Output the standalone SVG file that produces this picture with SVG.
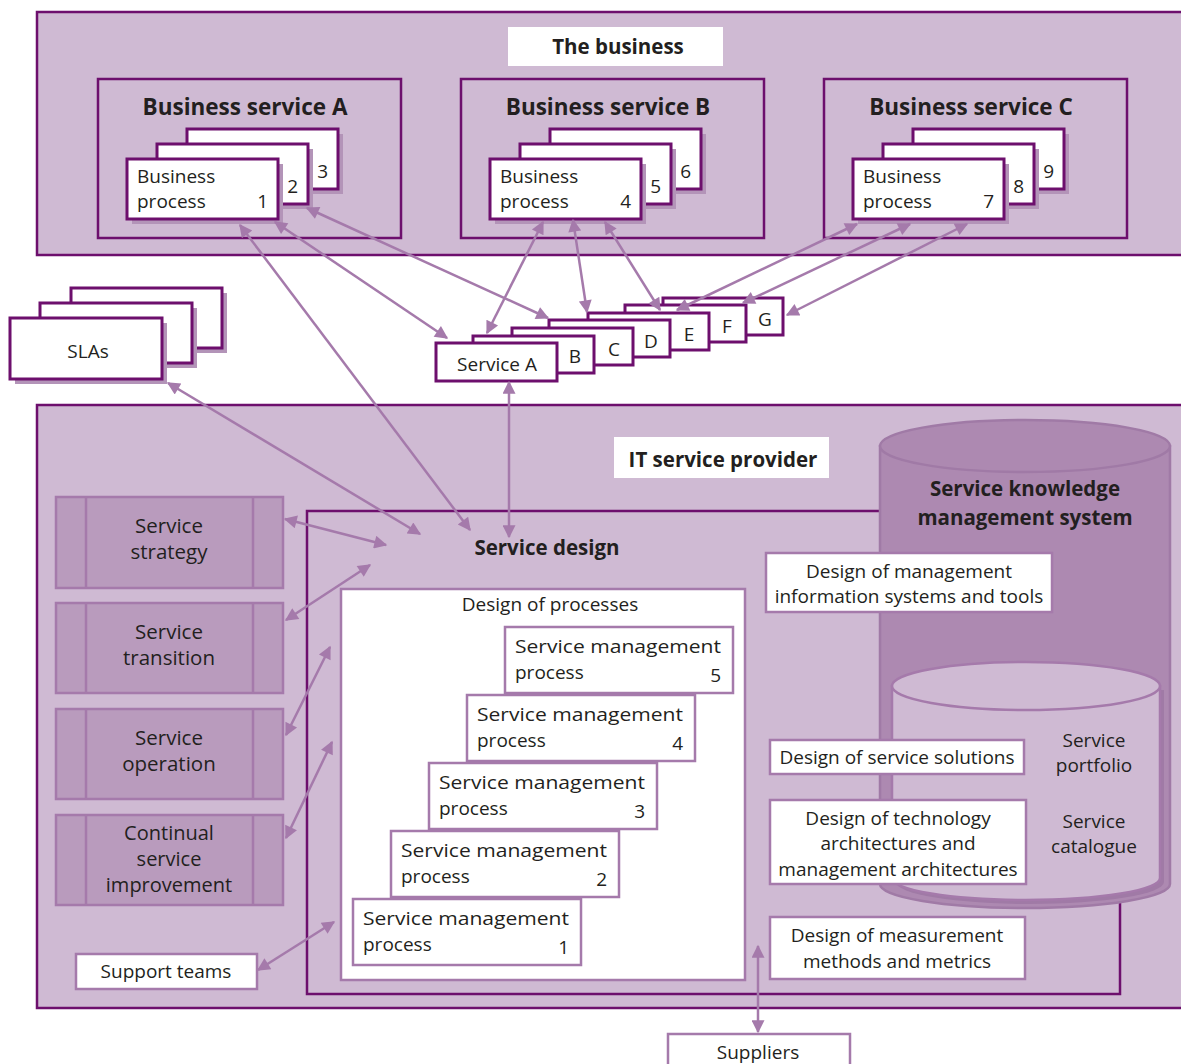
<svg xmlns="http://www.w3.org/2000/svg" width="1181" height="1064" viewBox="0 0 1181 1064">
<defs>
<marker id="ah" viewBox="0 0 10 10" refX="9" refY="5" markerWidth="6.5" markerHeight="5.2" orient="auto-start-reverse" markerUnits="strokeWidth"><path d="M0,0 L10,5 L0,10 z" fill="#a57aab"/></marker>
</defs>
<style>
text{font-family:"Open Sans","Noto Sans","Liberation Sans",sans-serif;fill:#231f20;font-size:19px}
.b{font-weight:bold;font-size:20.5px}
.bt{font-weight:bold;font-size:22.5px}
.lg{font-size:20.5px}
.c{text-anchor:middle}
.r{text-anchor:end}
.area{fill:#cfbad3;stroke:#6d0f6d;stroke-width:2.5}
.dk{fill:#fff;stroke:#6d0f6d;stroke-width:3}
.sh{fill:#b394b8}
.wl{fill:#fff;stroke:#a57aab;stroke-width:2.5}
.lp{fill:#b99bbd;stroke:#a57aab;stroke-width:2.5}
.ttl{fill:#fff}
.con line{stroke:#a57aab;stroke-width:2.5;marker-start:url(#ah);marker-end:url(#ah)}
</style>
<rect width="1181" height="1064" fill="#fff"/>

<g id="the-business">
<rect class="area" x="37" y="12" width="1160" height="243"/>
<rect class="ttl" x="508" y="27" width="215" height="39"/>
<text class="b c" x="618" y="54">The business</text>
</g>

<g id="business-service-a">
<rect class="area" x="98" y="79" width="303" height="159"/>
<text class="bt c" x="245" y="115">Business service A</text>
<rect class="sh" x="192" y="134" width="151" height="60"/><rect class="dk" x="187" y="129" width="151" height="60"/>
<text class="r" x="328" y="178">3</text>
<rect class="sh" x="162" y="149" width="151" height="60"/><rect class="dk" x="157" y="144" width="151" height="60"/>
<text class="r" x="298" y="193">2</text>
<rect class="sh" x="132" y="164" width="151" height="60"/><rect class="dk" x="127" y="159" width="151" height="60"/>
<text x="137" y="183">Business</text><text x="137" y="208">process</text><text class="r" x="268" y="208">1</text>
</g>

<g id="business-service-b">
<rect class="area" x="461" y="79" width="303" height="159"/>
<text class="bt c" x="608" y="115">Business service B</text>
<rect class="sh" x="555" y="134" width="151" height="60"/><rect class="dk" x="550" y="129" width="151" height="60"/>
<text class="r" x="691" y="178">6</text>
<rect class="sh" x="525" y="149" width="151" height="60"/><rect class="dk" x="520" y="144" width="151" height="60"/>
<text class="r" x="661" y="193">5</text>
<rect class="sh" x="495" y="164" width="151" height="60"/><rect class="dk" x="490" y="159" width="151" height="60"/>
<text x="500" y="183">Business</text><text x="500" y="208">process</text><text class="r" x="631" y="208">4</text>
</g>

<g id="business-service-c">
<rect class="area" x="824" y="79" width="303" height="159"/>
<text class="bt c" x="971" y="115">Business service C</text>
<rect class="sh" x="918" y="134" width="151" height="60"/><rect class="dk" x="913" y="129" width="151" height="60"/>
<text class="r" x="1054" y="178">9</text>
<rect class="sh" x="888" y="149" width="151" height="60"/><rect class="dk" x="883" y="144" width="151" height="60"/>
<text class="r" x="1024" y="193">8</text>
<rect class="sh" x="858" y="164" width="151" height="60"/><rect class="dk" x="853" y="159" width="151" height="60"/>
<text x="863" y="183">Business</text><text x="863" y="208">process</text><text class="r" x="994" y="208">7</text>
</g>

<g id="slas">
<rect class="sh" x="76" y="293" width="151" height="60"/><rect class="dk" x="71" y="288" width="151" height="60"/>
<rect class="sh" x="45" y="308" width="152" height="60"/><rect class="dk" x="40" y="303" width="152" height="60"/>
<rect class="sh" x="15" y="323" width="152" height="61"/><rect class="dk" x="10" y="318" width="152" height="61"/>
<text class="c" x="88" y="358">SLAs</text>
</g>

<g id="services">
<rect class="dk" x="663" y="298" width="120" height="37"/><text class="c" x="765" y="326">G</text>
<rect class="dk" x="625" y="305" width="121" height="37"/><text class="c" x="727" y="333">F</text>
<rect class="dk" x="588" y="313" width="121" height="37"/><text class="c" x="689" y="341">E</text>
<rect class="dk" x="549" y="320" width="121" height="37"/><text class="c" x="651" y="348">D</text>
<rect class="dk" x="512" y="328" width="121" height="37"/><text class="c" x="614" y="356">C</text>
<rect class="dk" x="473" y="336" width="121" height="37"/><text class="c" x="575" y="363">B</text>
<rect class="dk" x="436" y="343" width="121" height="38"/><text class="c" x="497" y="371">Service A</text>
</g>

<g id="it-service-provider">
<rect class="area" x="37" y="405" width="1160" height="603"/>
<rect class="ttl" x="614" y="437" width="215" height="41"/>
<text class="b c" x="723" y="467">IT service provider</text>
</g>

<g id="service-strategy">
<rect class="lp" x="56" y="497" width="227" height="91"/>
<line x1="86" y1="497" x2="86" y2="588" stroke="#a57aab" stroke-width="2.5"/><line x1="253" y1="497" x2="253" y2="588" stroke="#a57aab" stroke-width="2.5"/>
<text class="c lg" x="169" y="533">Service</text><text class="c lg" x="169" y="559">strategy</text>
</g>
<g id="service-transition">
<rect class="lp" x="56" y="603" width="227" height="90"/>
<line x1="86" y1="603" x2="86" y2="693" stroke="#a57aab" stroke-width="2.5"/><line x1="253" y1="603" x2="253" y2="693" stroke="#a57aab" stroke-width="2.5"/>
<text class="c lg" x="169" y="639">Service</text><text class="c lg" x="169" y="665">transition</text>
</g>
<g id="service-operation">
<rect class="lp" x="56" y="709" width="227" height="90"/>
<line x1="86" y1="709" x2="86" y2="799" stroke="#a57aab" stroke-width="2.5"/><line x1="253" y1="709" x2="253" y2="799" stroke="#a57aab" stroke-width="2.5"/>
<text class="c lg" x="169" y="745">Service</text><text class="c lg" x="169" y="771">operation</text>
</g>
<g id="continual-service-improvement">
<rect class="lp" x="56" y="815" width="227" height="90"/>
<line x1="86" y1="815" x2="86" y2="905" stroke="#a57aab" stroke-width="2.5"/><line x1="253" y1="815" x2="253" y2="905" stroke="#a57aab" stroke-width="2.5"/>
<text class="c" x="169" y="840" style="font-size:20px">Continual</text><text class="c" x="169" y="866" style="font-size:20px">service</text><text class="c" x="169" y="892" style="font-size:20px">improvement</text>
</g>

<g id="support-teams">
<rect class="wl" x="76" y="954" width="181" height="35"/>
<text class="c" x="166" y="978">Support teams</text>
</g>

<g id="service-design">
<rect class="area" x="307" y="511" width="813" height="483"/>
<text class="b c" x="547" y="555">Service design</text>
</g>

<g id="skms">
<path d="M880,446 L880,884 A145,24 0 0 0 1170,884 L1170,446 Z" fill="#ad89b1" stroke="#a07aa6" stroke-width="2.5"/>
<ellipse cx="1025" cy="446" rx="145" ry="26" fill="#ad89b1" stroke="#a07aa6" stroke-width="2.5"/>
<text class="b c" x="1025" y="496">Service knowledge</text>
<text class="b c" x="1025" y="525">management system</text>
</g>

<g id="service-portfolio">
<path d="M896,690 L896,882 A134,22 0 0 0 1164,882 L1164,690 Z" fill="#a07aa6"/>
<path d="M892,686 L892,878 A134,22 0 0 0 1160,878 L1160,686 Z" fill="#cfbad3" stroke="#a57aab" stroke-width="2.5"/>
<ellipse cx="1026" cy="686" rx="134" ry="24" fill="#cfbad3" stroke="#a57aab" stroke-width="2.5"/>
<text class="c" x="1094" y="747">Service</text><text class="c" x="1094" y="772">portfolio</text>
<text class="c" x="1094" y="828">Service</text><text class="c" x="1094" y="853">catalogue</text>
</g>

<g id="design-mis">
<rect class="wl" x="766" y="553" width="286" height="59"/>
<text class="c" x="909" y="578">Design of management</text><text class="c" x="909" y="603">information systems and tools</text>
</g>
<g id="design-solutions">
<rect class="wl" x="770" y="740" width="254" height="34"/>
<text class="c" x="897" y="764">Design of service solutions</text>
</g>
<g id="design-architectures">
<rect class="wl" x="770" y="800" width="256" height="84"/>
<text class="c" x="898" y="825">Design of technology</text><text class="c" x="898" y="850">architectures and</text><text class="c" x="898" y="876">management architectures</text>
</g>
<g id="design-measurement">
<rect class="wl" x="770" y="917" width="255" height="62"/>
<text class="c" x="897" y="942">Design of measurement</text><text class="c" x="897" y="968">methods and metrics</text>
</g>

<g id="design-of-processes">
<rect class="wl" x="341" y="589" width="404" height="391"/>
<text class="c" x="550" y="611">Design of processes</text>
</g>
<g id="smp-5"><rect class="wl" x="505" y="627" width="228" height="66"/><text x="515" y="653" textLength="206" lengthAdjust="spacingAndGlyphs">Service management</text><text x="515" y="679">process</text><text class="r" x="721" y="682">5</text></g>
<g id="smp-4"><rect class="wl" x="467" y="695" width="228" height="66"/><text x="477" y="721" textLength="206" lengthAdjust="spacingAndGlyphs">Service management</text><text x="477" y="747">process</text><text class="r" x="683" y="750">4</text></g>
<g id="smp-3"><rect class="wl" x="429" y="763" width="228" height="66"/><text x="439" y="789" textLength="206" lengthAdjust="spacingAndGlyphs">Service management</text><text x="439" y="815">process</text><text class="r" x="645" y="818">3</text></g>
<g id="smp-2"><rect class="wl" x="391" y="831" width="228" height="66"/><text x="401" y="857" textLength="206" lengthAdjust="spacingAndGlyphs">Service management</text><text x="401" y="883">process</text><text class="r" x="607" y="886">2</text></g>
<g id="smp-1"><rect class="wl" x="353" y="899" width="228" height="66"/><text x="363" y="925" textLength="206" lengthAdjust="spacingAndGlyphs">Service management</text><text x="363" y="951">process</text><text class="r" x="569" y="954">1</text></g>

<g id="suppliers">
<rect class="wl" x="668" y="1034" width="182" height="40"/>
<text class="c" x="758" y="1059">Suppliers</text>
</g>

<g id="connectors" class="con">
<line x1="240" y1="225" x2="470" y2="530"/>
<line x1="275" y1="222" x2="447" y2="338"/>
<line x1="307" y1="208" x2="548" y2="318"/>
<line x1="543" y1="222" x2="487" y2="333"/>
<line x1="573" y1="220" x2="587" y2="312"/>
<line x1="605" y1="222" x2="660" y2="310"/>
<line x1="857" y1="224" x2="677" y2="310"/>
<line x1="910" y1="224" x2="743" y2="303"/>
<line x1="967" y1="224" x2="787" y2="315"/>
<line x1="168" y1="383" x2="420" y2="534"/>
<line x1="509" y1="382" x2="509" y2="537"/>
<line x1="285" y1="519" x2="386" y2="545"/>
<line x1="286" y1="620" x2="370" y2="565"/>
<line x1="286" y1="735" x2="330" y2="647"/>
<line x1="286" y1="838" x2="332" y2="742"/>
<line x1="258" y1="970" x2="334" y2="922"/>
<line x1="758" y1="946" x2="758" y2="1032"/>
</g>
</svg>
